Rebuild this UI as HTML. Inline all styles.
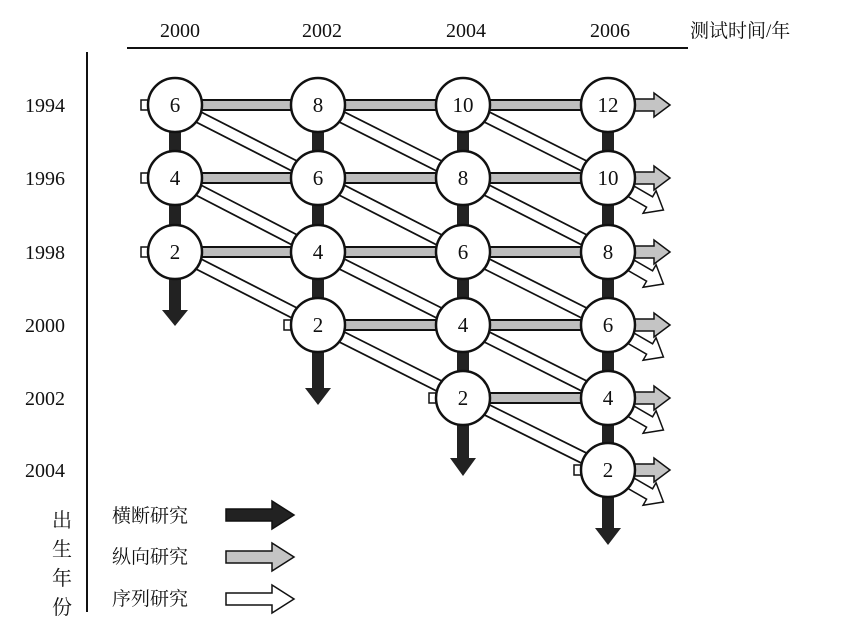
<!DOCTYPE html>
<html><head><meta charset="utf-8"><style>
body{margin:0;background:#fff}
svg{display:block}
text{font-family:"Liberation Serif","Noto Serif CJK SC",serif;fill:#111}
</style></head><body>
<svg width="856" height="628" viewBox="0 0 856 628" xmlns="http://www.w3.org/2000/svg">
<line x1="127" y1="48" x2="688" y2="48" stroke="#111" stroke-width="2"/>
<line x1="87" y1="52" x2="87" y2="612" stroke="#111" stroke-width="2"/>
<g font-size="20" text-anchor="middle">
<text x="180" y="37">2000</text><text x="322" y="37">2002</text><text x="466" y="37">2004</text><text x="610" y="37">2006</text>
</g>
<text x="690" y="37" font-size="19">测试时间/年</text>
<g font-size="20" text-anchor="middle">
<text x="45" y="112">1994</text><text x="45" y="185">1996</text><text x="45" y="259">1998</text>
<text x="45" y="332">2000</text><text x="45" y="405">2002</text><text x="45" y="477">2004</text>
</g>
<g font-size="20" text-anchor="middle">
<text x="62" y="527">出</text><text x="62" y="556">生</text><text x="62" y="585">年</text><text x="62" y="614">份</text>
</g>
<g stroke="#222" stroke-width="12">
<line x1="175" y1="105" x2="175" y2="312"/>
<line x1="318" y1="105" x2="318" y2="390"/>
<line x1="463" y1="105" x2="463" y2="460"/>
<line x1="608" y1="105" x2="608" y2="530"/>
</g>
<g fill="#222">
<polygon points="162,310 188,310 175,326"/>
<polygon points="305,388 331,388 318,405"/>
<polygon points="450,458 476,458 463,476"/>
<polygon points="595,528 621,528 608,545"/>
</g>
<g stroke="#111" stroke-width="13">
<line x1="175" y1="105" x2="318" y2="178"/><line x1="175" y1="178" x2="318" y2="252"/><line x1="175" y1="252" x2="318" y2="325"/>
<line x1="318" y1="105" x2="463" y2="178"/><line x1="318" y1="178" x2="463" y2="252"/><line x1="318" y1="252" x2="463" y2="325"/><line x1="318" y1="325" x2="463" y2="398"/>
<line x1="463" y1="105" x2="608" y2="178"/><line x1="463" y1="178" x2="608" y2="252"/><line x1="463" y1="252" x2="608" y2="325"/><line x1="463" y1="325" x2="608" y2="398"/><line x1="463" y1="398" x2="608" y2="470"/>
</g>
<g stroke="#fff" stroke-width="9.5">
<line x1="175" y1="105" x2="318" y2="178"/><line x1="175" y1="178" x2="318" y2="252"/><line x1="175" y1="252" x2="318" y2="325"/>
<line x1="318" y1="105" x2="463" y2="178"/><line x1="318" y1="178" x2="463" y2="252"/><line x1="318" y1="252" x2="463" y2="325"/><line x1="318" y1="325" x2="463" y2="398"/>
<line x1="463" y1="105" x2="608" y2="178"/><line x1="463" y1="178" x2="608" y2="252"/><line x1="463" y1="252" x2="608" y2="325"/><line x1="463" y1="325" x2="608" y2="398"/><line x1="463" y1="398" x2="608" y2="470"/>
</g>
<g stroke="#111" stroke-width="12">
<line x1="175" y1="105" x2="608" y2="105"/><line x1="175" y1="178" x2="608" y2="178"/><line x1="175" y1="252" x2="608" y2="252"/>
<line x1="318" y1="325" x2="608" y2="325"/><line x1="463" y1="398" x2="608" y2="398"/>
</g>
<g stroke="#bdbdbd" stroke-width="8">
<line x1="175" y1="105" x2="608" y2="105"/><line x1="175" y1="178" x2="608" y2="178"/><line x1="175" y1="252" x2="608" y2="252"/>
<line x1="318" y1="325" x2="608" y2="325"/><line x1="463" y1="398" x2="608" y2="398"/>
</g>
<g stroke="#111" stroke-width="1.5">
<g fill="#fff">
<polygon transform="translate(608,178) rotate(30)" points="24,-6 48,-6 48,-13 64,0 48,13 48,6 24,6"/>
<polygon transform="translate(608,252) rotate(30)" points="24,-6 48,-6 48,-13 64,0 48,13 48,6 24,6"/>
<polygon transform="translate(608,325) rotate(30)" points="24,-6 48,-6 48,-13 64,0 48,13 48,6 24,6"/>
<polygon transform="translate(608,398) rotate(30)" points="24,-6 48,-6 48,-13 64,0 48,13 48,6 24,6"/>
<polygon transform="translate(608,470) rotate(30)" points="24,-6 48,-6 48,-13 64,0 48,13 48,6 24,6"/>
</g>
<g fill="#c4c4c4">
<polygon transform="translate(608,105)" points="24,-6 46,-6 46,-12 62,0 46,12 46,6 24,6"/>
<polygon transform="translate(608,178)" points="24,-6 46,-6 46,-12 62,0 46,12 46,6 24,6"/>
<polygon transform="translate(608,252)" points="24,-6 46,-6 46,-12 62,0 46,12 46,6 24,6"/>
<polygon transform="translate(608,325)" points="24,-6 46,-6 46,-12 62,0 46,12 46,6 24,6"/>
<polygon transform="translate(608,398)" points="24,-6 46,-6 46,-12 62,0 46,12 46,6 24,6"/>
<polygon transform="translate(608,470)" points="24,-6 46,-6 46,-12 62,0 46,12 46,6 24,6"/>
</g>
<g fill="#fff">
<rect x="141" y="100" width="7" height="10"/><rect x="141" y="173" width="7" height="10"/><rect x="141" y="247" width="7" height="10"/>
<rect x="284" y="320" width="7" height="10"/><rect x="429" y="393" width="7" height="10"/><rect x="574" y="465" width="7" height="10"/>
</g>
</g>
<g fill="#fff" stroke="#111" stroke-width="2.5">
<circle cx="175" cy="105" r="27"/><circle cx="175" cy="178" r="27"/><circle cx="175" cy="252" r="27"/>
<circle cx="318" cy="105" r="27"/><circle cx="318" cy="178" r="27"/><circle cx="318" cy="252" r="27"/><circle cx="318" cy="325" r="27"/>
<circle cx="463" cy="105" r="27"/><circle cx="463" cy="178" r="27"/><circle cx="463" cy="252" r="27"/><circle cx="463" cy="325" r="27"/><circle cx="463" cy="398" r="27"/>
<circle cx="608" cy="105" r="27"/><circle cx="608" cy="178" r="27"/><circle cx="608" cy="252" r="27"/><circle cx="608" cy="325" r="27"/><circle cx="608" cy="398" r="27"/><circle cx="608" cy="470" r="27"/>
</g>
<g font-size="21" text-anchor="middle">
<text x="175" y="112">6</text><text x="175" y="185">4</text><text x="175" y="259">2</text>
<text x="318" y="112">8</text><text x="318" y="185">6</text><text x="318" y="259">4</text><text x="318" y="332">2</text>
<text x="463" y="112">10</text><text x="463" y="185">8</text><text x="463" y="259">6</text><text x="463" y="332">4</text><text x="463" y="405">2</text>
<text x="608" y="112">12</text><text x="608" y="185">10</text><text x="608" y="259">8</text><text x="608" y="332">6</text><text x="608" y="405">4</text><text x="608" y="477">2</text>
</g>
<g font-size="19">
<text x="112" y="522">横断研究</text><text x="112" y="563">纵向研究</text><text x="112" y="605">序列研究</text>
</g>
<g stroke="#111" stroke-width="1.5">
<polygon fill="#222" points="226,509 272,509 272,501 294,515 272,529 272,521 226,521"/>
<polygon fill="#c4c4c4" points="226,551 272,551 272,543 294,557 272,571 272,563 226,563"/>
<polygon fill="#fff" points="226,593 272,593 272,585 294,599 272,613 272,605 226,605"/>
</g>
</svg>
</body></html>
